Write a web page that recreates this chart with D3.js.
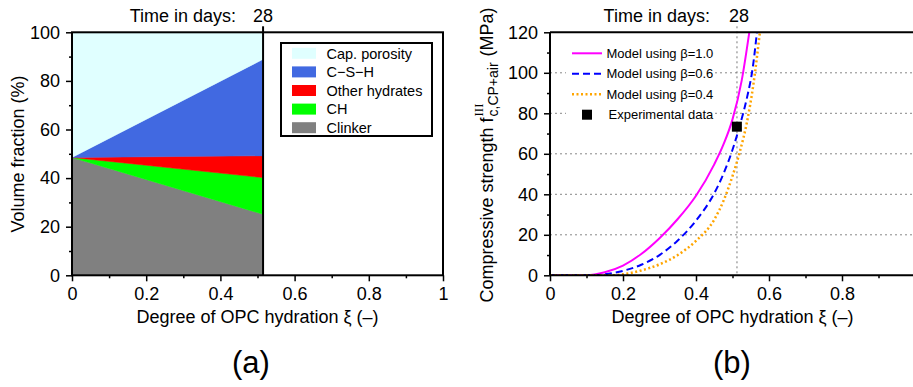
<!DOCTYPE html>
<html>
<head>
<meta charset="utf-8">
<script src="https://cdn.jsdelivr.net/npm/d3@7"></script>
<style>
  body { margin: 0; background: #fff; }
  svg { display: block; font-family: "Liberation Sans", Arial, Helvetica, sans-serif; }
</style>
</head>
<body>
<script>
// ---- data ----
const timeDays = 28;
const xiNow = 0.515;                 // degree of hydration at 28 days
const xiPoints = [0, xiNow];

// phase thicknesses (%) at xi = 0 and xi = xiNow, bottom to top
const clinker  = [48.5, 25.1];
const chPhase  = [0.0, 15.1];
const otherHyd = [0.0, 9.0];
const cshPhase = [0.0, 39.7];
const capPor   = [51.5, 11.1];
const phaseKeys   = ["clinker", "ch", "other", "csh", "por"];
const phaseLabels = ["Clinker", "CH", "Other hydrates", "C\u2212S\u2212H", "Cap. porosity"];

// compressive strength model curves [xi, MPa]
const beta10 = [[0,0],[0.1,0],[0.15,1.5],[0.2,4.8],[0.25,10.5],[0.3,18.3],[0.35,27.8],[0.4,39.3],
                [0.45,54.8],[0.475,64.5],[0.5,77],[0.525,96],[0.546,120]];
const beta06 = [[0,0],[0.12,0],[0.15,0.5],[0.2,2.2],[0.25,5.2],[0.3,10],[0.35,17.2],[0.4,27],
                [0.45,40.5],[0.475,50],[0.5,62],[0.52,74],[0.54,88],[0.555,102],[0.567,120]];
const beta04 = [[0,0],[0.17,0],[0.2,0.5],[0.25,2.4],[0.3,5.4],[0.35,10],[0.4,17],[0.45,27.5],
                [0.477,37.5],[0.5,49],[0.52,61],[0.54,76],[0.557,94],[0.575,120]];
const expData = [[0.512, 73.4]];
const curveLabels = ["Model using \u03b2=1.0", "Model using \u03b2=0.6", "Model using \u03b2=0.4"];

const xTicksA = [0, 0.2, 0.4, 0.6, 0.8, 1];
const xTicksB = [0, 0.2, 0.4, 0.6, 0.8];
const xMinor  = [0.1, 0.3, 0.5, 0.7, 0.9];
const yTicksA = [0, 20, 40, 60, 80, 100];
const yMinorA = [10, 30, 50, 70, 90];
const yTicksB = [0, 20, 40, 60, 80, 100, 120];
const yMinorB = [10, 30, 50, 70, 90, 110];
const gridB   = [20, 40, 60, 80, 100];

// ---- styles ----
const phaseColors = { clinker: "#808080", ch: "#00ff00", other: "#ff0000", csh: "#4169e1", por: "#e0ffff" };
const curveStyles = [
  { color: "#ff00ff", dash: null,  width: 2 },
  { color: "#0000ff", dash: "7,4", width: 2 },
  { color: "#ffa500", dash: "2,2.5", width: 2.5 }
];

const svg = d3.select("body").append("svg").attr("width", 913).attr("height", 387);

const plotTop = 32.3, plotBot = 275.3;

function styleAxis(g, minor) {
  g.select(".domain").remove();
  g.selectAll(".tick line").attr("stroke", "#000").attr("stroke-width", 1.5);
  g.selectAll(".tick text").attr("font-size", minor ? 0 : 18).attr("fill", "#000")
    .attr("font-family", "Liberation Sans, Arial, sans-serif");
}

function drawAxes(x, y, xt, yt, ymin) {
  const fmt = d3.format("~g");
  svg.append("g").attr("transform", `translate(0,${plotBot})`)
    .call(d3.axisBottom(x).tickValues(xt).tickFormat(fmt).tickSize(6).tickPadding(6).tickSizeOuter(0))
    .call(g => styleAxis(g, false));
  svg.append("g").attr("transform", `translate(0,${plotBot})`)
    .call(d3.axisBottom(x).tickValues(xMinor).tickFormat("").tickSize(3).tickSizeOuter(0))
    .call(g => styleAxis(g, true));
  svg.append("g").attr("transform", `translate(${x(0)},0)`)
    .call(d3.axisLeft(y).tickValues(yt).tickFormat(fmt).tickSize(6).tickPadding(6).tickSizeOuter(0))
    .call(g => styleAxis(g, false));
  svg.append("g").attr("transform", `translate(${x(0)},0)`)
    .call(d3.axisLeft(y).tickValues(ymin).tickFormat("").tickSize(3).tickSizeOuter(0))
    .call(g => styleAxis(g, true));
}

// ================= panel (a) =================
const xA = d3.scaleLinear().domain([0, 1]).range([72, 443]);
const yA = d3.scaleLinear().domain([0, 100]).range([plotBot, plotTop]);

const phaseData = xiPoints.map((xi, i) => ({
  xi: xi, clinker: clinker[i], ch: chPhase[i], other: otherHyd[i], csh: cshPhase[i], por: capPor[i]
}));
const stackA = d3.stack().keys(phaseKeys)(phaseData);
const areaA = d3.area().x(d => xA(d.data.xi)).y0(d => yA(d[0])).y1(d => yA(d[1]));

svg.append("g").selectAll("path").data(stackA).join("path")
  .attr("d", areaA)
  .attr("fill", d => phaseColors[d.key])
  .attr("stroke", d => phaseColors[d.key]).attr("stroke-width", 0.5);

// time marker
svg.append("line")
  .attr("x1", xA(xiNow)).attr("x2", xA(xiNow))
  .attr("y1", plotTop - 6).attr("y2", plotBot)
  .attr("stroke", "#000").attr("stroke-width", 2);

// frame
svg.append("rect").attr("x", xA(0)).attr("y", plotTop)
  .attr("width", xA(1) - xA(0)).attr("height", plotBot - plotTop)
  .attr("fill", "none").attr("stroke", "#000").attr("stroke-width", 2);

drawAxes(xA, yA, xTicksA, yTicksA, yMinorA);

// legend (a)
const legA = svg.append("g");
legA.append("rect").attr("x", 281).attr("y", 43).attr("width", 151).attr("height", 93)
  .attr("fill", "#fff").attr("stroke", "#000").attr("stroke-width", 2);
phaseKeys.slice().reverse().forEach((k, i) => {
  const cy = 53.3 + i * 18.6;
  legA.append("rect").attr("x", 292).attr("y", cy - 5.5).attr("width", 24).attr("height", 11)
    .attr("fill", phaseColors[k]);
  legA.append("text").attr("x", 326.5).attr("y", cy).attr("dy", "0.36em")
    .attr("font-size", 14.5).text(phaseLabels[phaseKeys.length - 1 - i]);
});

// title (a)
svg.append("text").attr("x", xA(xiNow) - 27).attr("y", 22).attr("text-anchor", "end")
  .attr("font-size", 18).text("Time in days:");
svg.append("text").attr("x", xA(xiNow)).attr("y", 22).attr("text-anchor", "middle")
  .attr("font-size", 18).text(timeDays);

svg.append("text").attr("transform", "translate(24,154) rotate(-90)")
  .attr("text-anchor", "middle").attr("font-size", 18).text("Volume fraction (%)");
svg.append("text").attr("x", (xA(0) + xA(1)) / 2).attr("y", 323)
  .attr("text-anchor", "middle").attr("font-size", 18).text("Degree of OPC hydration \u03be (\u2013)");
svg.append("text").attr("x", 251).attr("y", 373)
  .attr("text-anchor", "middle").attr("font-size", 31).text("(a)");

// ================= panel (b) =================
const xB = d3.scaleLinear().domain([0, 1]).range([550, 915]);
const yB = d3.scaleLinear().domain([0, 120]).range([plotBot, plotTop]);

svg.append("defs").append("clipPath").attr("id", "clipB")
  .append("rect").attr("x", xB(0)).attr("y", plotTop).attr("width", xB(1) - xB(0)).attr("height", plotBot - plotTop);

// grid
svg.append("g").selectAll("line").data(gridB).join("line")
  .attr("x1", xB(0)).attr("x2", 913).attr("y1", d => yB(d)).attr("y2", d => yB(d))
  .attr("stroke", "#888").attr("stroke-width", 1).attr("stroke-dasharray", "2,3");
svg.append("line")
  .attr("x1", xB(xiNow) - 1).attr("x2", xB(xiNow) - 1).attr("y1", plotTop - 6).attr("y2", plotBot)
  .attr("stroke", "#777").attr("stroke-width", 1).attr("stroke-dasharray", "2,3");

// legend background (hides grid behind labels)
svg.append("rect").attr("x", 566).attr("y", 43).attr("width", 148).attr("height", 81).attr("fill", "#fff");

const lineB = d3.line().x(d => xB(d[0])).y(d => yB(d[1])).curve(d3.curveMonotoneX);
const curveG = svg.append("g").attr("clip-path", "url(#clipB)");
[beta10, beta06, beta04].forEach((s, i) => {
  curveG.append("path").attr("d", lineB(s)).attr("fill", "none")
    .attr("stroke", curveStyles[i].color).attr("stroke-width", curveStyles[i].width)
    .attr("stroke-dasharray", curveStyles[i].dash);
});
svg.append("g").selectAll("rect").data(expData).join("rect")
  .attr("x", d => xB(d[0]) - 5).attr("y", d => yB(d[1]) - 5)
  .attr("width", 10).attr("height", 10).attr("fill", "#000");

// axes + top border
svg.append("line").attr("x1", xB(0)).attr("x2", 913).attr("y1", plotTop).attr("y2", plotTop)
  .attr("stroke", "#000").attr("stroke-width", 2);
svg.append("line").attr("x1", xB(0)).attr("x2", 913).attr("y1", plotBot).attr("y2", plotBot)
  .attr("stroke", "#000").attr("stroke-width", 2);
svg.append("line").attr("x1", xB(0)).attr("x2", xB(0)).attr("y1", plotTop).attr("y2", plotBot)
  .attr("stroke", "#000").attr("stroke-width", 2);
drawAxes(xB, yB, xTicksB, yTicksB, yMinorB);

// legend (b)
const legB = svg.append("g");
curveLabels.forEach((t, i) => {
  const cy = 53.3 + i * 20.5;
  legB.append("line").attr("x1", 572).attr("x2", 602).attr("y1", cy).attr("y2", cy)
    .attr("stroke", curveStyles[i].color).attr("stroke-width", curveStyles[i].width)
    .attr("stroke-dasharray", curveStyles[i].dash);
  legB.append("text").attr("x", 606.5).attr("y", cy).attr("dy", "0.36em")
    .attr("font-size", 13).text(t);
});
legB.append("rect").attr("x", 582).attr("y", 114.7 - 5).attr("width", 10).attr("height", 10).attr("fill", "#000");
legB.append("text").attr("x", 608.5).attr("y", 114.7).attr("dy", "0.36em")
  .attr("font-size", 13).text("Experimental data");

// title (b)
svg.append("text").attr("x", xB(xiNow) - 28).attr("y", 22).attr("text-anchor", "end")
  .attr("font-size", 18).text("Time in days:");
svg.append("text").attr("x", xB(xiNow) + 1).attr("y", 22).attr("text-anchor", "middle")
  .attr("font-size", 18).text(timeDays);

// y label (b) with super/subscript, built piece by piece and centred
const yl = svg.append("g").attr("transform", "translate(493,155) rotate(-90)");
const p1 = yl.append("text").attr("font-size", 18).text("Compressive strength f");
const w1 = p1.node().getComputedTextLength();
const sup = yl.append("text").attr("x", w1 + 1).attr("y", -10)
  .attr("font-family", "Liberation Serif, Times New Roman, serif").attr("font-size", 13).text("III");
const sub = yl.append("text").attr("x", w1 + 1).attr("y", 5)
  .attr("font-size", 14).text("c,CP+air");
const w2 = Math.max(sup.node().getComputedTextLength(), sub.node().getComputedTextLength());
const p3 = yl.append("text").attr("x", w1 + 2 + w2).attr("font-size", 18).text("\u00a0(MPa)");
const total = w1 + 2 + w2 + p3.node().getComputedTextLength();
yl.selectAll("text").attr("transform", `translate(${-total / 2},0)`);

svg.append("text").attr("x", 732.5).attr("y", 323)
  .attr("text-anchor", "middle").attr("font-size", 18).text("Degree of OPC hydration \u03be (\u2013)");
svg.append("text").attr("x", 732).attr("y", 373)
  .attr("text-anchor", "middle").attr("font-size", 31).text("(b)");
</script>
</body>
</html>
